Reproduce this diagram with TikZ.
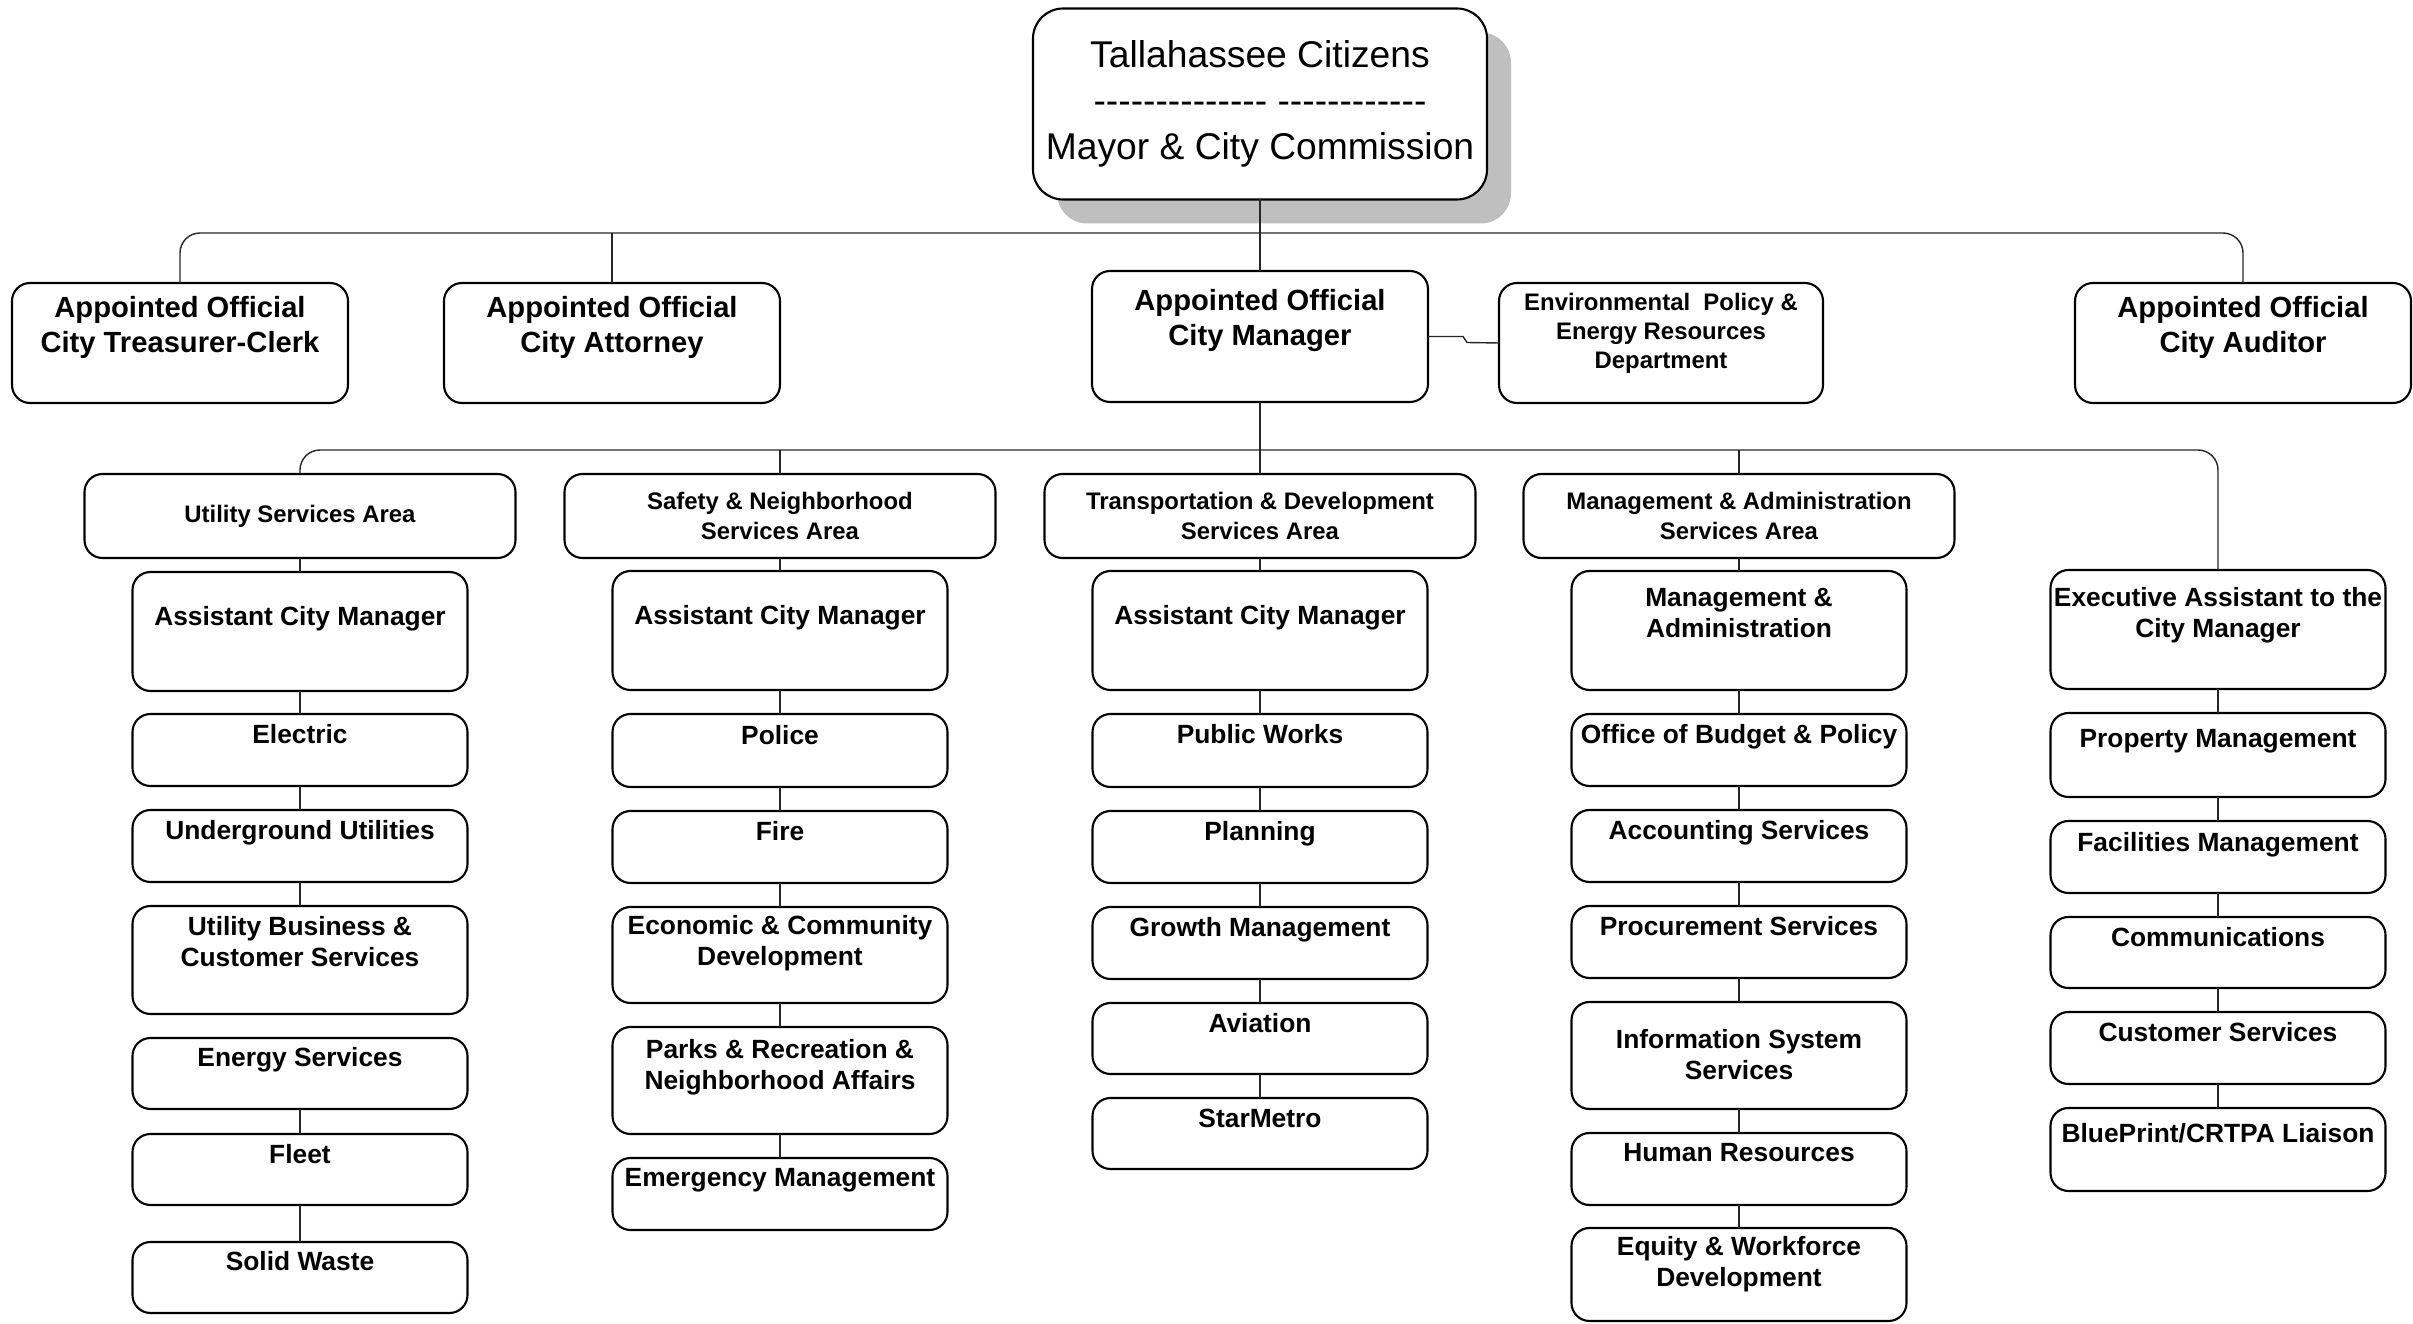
\documentclass[tikz,border=0pt]{standalone}
\usepackage{fontspec}
\setmainfont{Liberation Sans}
\usetikzlibrary{positioning,shadows}
\newcommand{\topfont}{\fontsize{10.6}{13.1}\selectfont}
\newcommand{\headfont}{\fontsize{8.3}{9.8}\selectfont\bfseries}
\newcommand{\areafont}{\fontsize{6.8}{8.3}\selectfont\bfseries}
\newcommand{\deptfont}{\fontsize{7.5}{8.8}\selectfont\bfseries}
\newcommand{\dashrun}[1]{\foreach \k in {1,...,#1}{-\kern0pt}}
\tikzset{
  every node/.style={text=black},
  unit/.style={draw=black,line width=0.6pt,rounded corners=1.8mm,fill=white,minimum width=33.5mm,inner sep=0pt,outer sep=0pt},
  topbox/.style={unit,rounded corners=3mm,minimum width=45.4mm,minimum height=19.1mm,align=center,font=\topfont,
    drop shadow={shadow xshift=2.4mm,shadow yshift=-2.4mm,fill=black!25,opacity=1}},
  headbox/.style={unit,minimum width=33.6mm,minimum height=12mm,anchor=north},
  areabox/.style={unit,minimum width=43.1mm,minimum height=8.4mm,align=center,font=\areafont},
  deptbox/.style={unit,minimum height=7.2mm},
  boxtext/.style={anchor=north,align=center,inner sep=0pt,font=\deptfont},
  tx/.style={label={[boxtext,yshift=-1mm]north:{#1}}},
  txd/.style 2 args={label={[boxtext,yshift=-#1]north:{#2}}},
  htx/.style 2 args={label={[boxtext,font=\headfont,yshift=-#1]north:{#2}}},
  link/.style={draw=black!85,line width=0.4pt},
  bus/.style={link,rounded corners=2mm},
}

\begin{document}
\begin{tikzpicture}[x=0.1mm,y=-0.1mm,node distance=2.4mm]
\useasboundingbox (0,0) rectangle (2413,1324);

% council and appointed officials
\node[topbox] (mayor) at (1260,104) {Tallahassee Citizens\\\dashrun{14} \dashrun{12}\\Mayor \& City Commission};

\node[headbox,htx={1.3mm}{Appointed Official\\City Treasurer-Clerk}] (treas) at (180,283) {};
\node[headbox,htx={1.3mm}{Appointed Official\\City Attorney}] (atty) at (612,283) {};
\node[headbox,minimum height=13.1mm,htx={1.8mm}{Appointed Official\\City Manager}] (cm) at (1260,271) {};
\node[headbox,minimum width=32.4mm,label={[boxtext,font=\areafont,yshift=-0.9mm]north:{Environmental~ Policy \&\\Energy Resources\\Department}}] (env) at (1661,283) {};
\node[headbox,htx={1.3mm}{Appointed Official\\City Auditor}] (audit) at (2243,283) {};

% service areas
\node[areabox] (util) at (300,516) {Utility Services Area};
\node[areabox] (safety) at (780,516) {Safety \& Neighborhood\\Services Area};
\node[areabox] (trans) at (1260,516) {Transportation \& Development\\Services Area};
\node[areabox] (mgmt) at (1739,516) {Management \& Administration\\Services Area};

% utility column
\node[deptbox,minimum height=11.9mm,txd={3.4mm}{Assistant City Manager},below=1.4mm of util] (acm1) {};
\node[deptbox,tx={Electric},below=2.3mm of acm1] (elec) {};
\node[deptbox,tx={Underground Utilities},below=of elec] (ugu) {};
\node[deptbox,minimum height=10.8mm,tx={Utility Business \&\\Customer Services},below=of ugu] (ubcs) {};
\node[deptbox,minimum height=7.1mm,txd={0.9mm}{Energy Services},below=of ubcs] (energy) {};
\node[deptbox,minimum height=7.1mm,tx={Fleet},below=2.5mm of energy] (fleet) {};
\node[deptbox,minimum height=7.1mm,txd={0.9mm}{Solid Waste},below=3.7mm of fleet] (waste) {};

% safety column
\node[deptbox,minimum height=11.9mm,txd={3.4mm}{Assistant City Manager},below=1.3mm of safety] (acm2) {};
\node[deptbox,minimum height=7.3mm,txd={1.05mm}{Police},below=of acm2] (police) {};
\node[deptbox,txd={1.0mm}{Fire},below=of police] (fire) {};
\node[deptbox,minimum height=9.6mm,txd={0.75mm}{Economic \& Community\\Development},below=of fire] (econ) {};
\node[deptbox,minimum height=10.7mm,txd={1.15mm}{Parks \& Recreation \&\\Neighborhood Affairs},below=of econ] (parks) {};
\node[deptbox,txd={1.0mm}{Emergency Management},below=of parks] (emerg) {};

% transportation column
\node[deptbox,minimum height=11.9mm,txd={3.4mm}{Assistant City Manager},below=1.3mm of trans] (acm3) {};
\node[deptbox,minimum height=7.3mm,txd={1.0mm}{Public Works},below=of acm3] (works) {};
\node[deptbox,txd={1.0mm}{Planning},below=of works] (plan) {};
\node[deptbox,tx={Growth Management},below=of plan] (growth) {};
\node[deptbox,minimum height=7.1mm,tx={Aviation},below=of growth] (avia) {};
\node[deptbox,minimum height=7.1mm,tx={StarMetro},below=of avia] (metro) {};

% management column
\node[deptbox,minimum height=11.9mm,txd={1.7mm}{Management \&\\Administration},below=1.3mm of mgmt] (madmin) {};
\node[deptbox,txd={1.0mm}{Office of Budget \& Policy},below=of madmin] (budget) {};
\node[deptbox,tx={Accounting Services},below=of budget] (acct) {};
\node[deptbox,tx={Procurement Services},below=of acct] (procure) {};
\node[deptbox,minimum height=10.7mm,txd={2.7mm}{Information System\\Services},below=of procure] (infosys) {};
\node[deptbox,tx={Human Resources},below=of infosys] (hr) {};
\node[deptbox,minimum height=9.3mm,txd={0.8mm}{Equity \& Workforce\\Development},below=2.3mm of hr] (equity) {};

% executive assistant column
\node[deptbox,minimum height=11.9mm,anchor=north,txd={1.7mm}{Executive Assistant to the\\City Manager}] (exec) at (2218,570) {};
\node[deptbox,minimum height=8.4mm,txd={1.6mm}{Property Management},below=of exec] (prop) {};
\node[deptbox,txd={1.05mm}{Facilities Management},below=of prop] (facil) {};
\node[deptbox,minimum height=7.1mm,tx={Communications},below=of facil] (comm) {};
\node[deptbox,tx={Customer Services},below=of comm] (cust) {};
\node[deptbox,minimum height=8.3mm,txd={1.5mm}{BluePrint/CRTPA Liaison},below=of cust] (blue) {};

% reporting lines
\coordinate (bus1) at (1260,233);
\coordinate (bus2) at (1260,450);
\draw[bus] (treas.north) |- (bus1) -| (audit.north);
\draw[link] (atty.north) -- (atty.north |- bus1);
\draw[link] (mayor) -- (cm);
\draw[link] (cm.east) -- ++(3.5mm,0) -- ++(0.4mm,-0.6mm) -- (env.west);
\draw[bus] (util.north) |- (bus2) -| (exec.north);
\draw[link] (safety.north) -- (safety.north |- bus2);
\draw[link] (cm) -- (trans);
\draw[link] (mgmt.north) -- (mgmt.north |- bus2);

\draw[link] (util) -- (acm1) -- (elec) -- (ugu) -- (ubcs);
\draw[link] (energy) -- (fleet) -- (waste);
\draw[link] (safety) -- (acm2) -- (police) -- (fire) -- (econ) -- (parks) -- (emerg);
\draw[link] (trans) -- (acm3) -- (works) -- (plan) -- (growth) -- (avia) -- (metro);
\draw[link] (mgmt) -- (madmin) -- (budget) -- (acct) -- (procure) -- (infosys) -- (hr) -- (equity);
\draw[link] (exec) -- (prop) -- (facil) -- (comm) -- (cust) -- (blue);

\end{tikzpicture}
\end{document}
